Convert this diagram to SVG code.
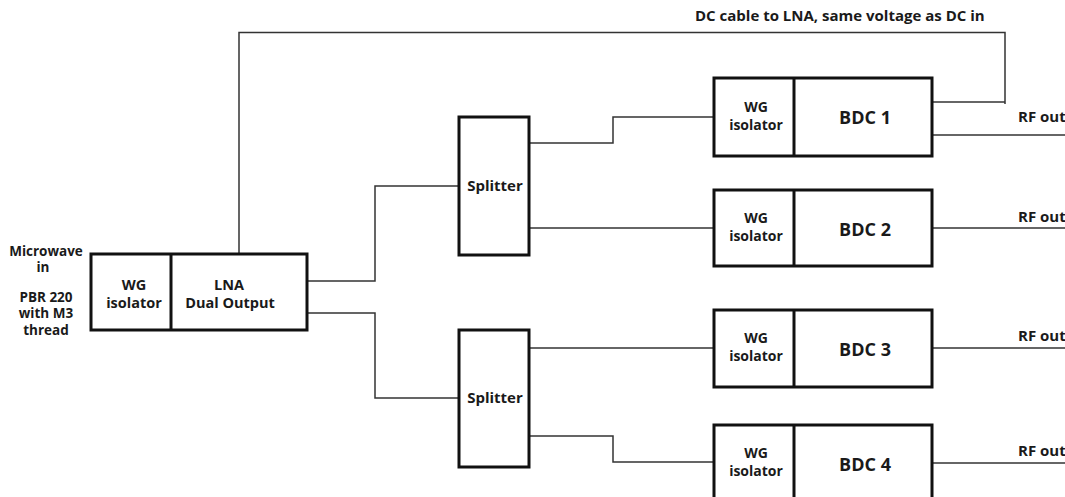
<svg xmlns="http://www.w3.org/2000/svg" width="1065" height="497" viewBox="0 0 1065 497">
<style>
.box{fill:#fff;stroke:#111;stroke-width:3}
.div{stroke:#111;stroke-width:3}
.wire{fill:none;stroke:#333;stroke-width:1.5}
text{font-family:"Open Sans",Lato,"Liberation Sans",sans-serif;font-weight:bold;fill:#1a1a1a}
.s{font-size:13.5px}
.t{font-size:15px}
.n{font-size:14.5px}
.m{font-size:14px}
.l{font-size:18px}
.c{text-anchor:middle}
</style>
<rect width="1065" height="497" fill="#fff"/>
<g id="connectors">
<polyline class="wire" points="239,254 239,32.5 1005,32.5 1005,104"/>
<polyline class="wire" points="932,102 1005,102"/>
<polyline class="wire" points="307,281 375,281 375,186 459,186"/>
<polyline class="wire" points="307,313 375,313 375,398 459,398"/>
<polyline class="wire" points="529,143 613,143 613,117 714,117"/>
<polyline class="wire" points="529,228 714,228"/>
<polyline class="wire" points="529,348 714,348"/>
<polyline class="wire" points="529,436 613,436 613,462 714,462"/>
<polyline class="wire" points="932,135 1065,135"/>
<polyline class="wire" points="932,228 1065,228"/>
<polyline class="wire" points="932,348 1065,348"/>
<polyline class="wire" points="932,463 1065,463"/>
</g>
<g id="dc-label">
<text class="t" x="695" y="21">DC cable to LNA, same voltage as DC in</text>
</g>
<g id="input-label">
<text class="s c" x="46" y="256">Microwave</text>
<text class="s c" x="43" y="272">in</text>
<text class="s c" x="46" y="302">PBR 220</text>
<text class="s c" x="46" y="318">with M3</text>
<text class="s c" x="46" y="335">thread</text>
</g>
<g id="lna">
<rect class="box" x="91" y="254" width="216" height="76"/>
<line class="div" x1="171" y1="254" x2="171" y2="330"/>
<text class="n c" x="134" y="290">WG</text>
<text class="n c" x="134" y="308">isolator</text>
<text class="n c" x="229" y="290">LNA</text>
<text class="n c" x="230" y="308">Dual Output</text>
</g>
<g id="splitter1">
<rect class="box" x="459" y="117" width="70" height="138"/>
<text class="t c" x="495" y="191">Splitter</text>
</g>
<g id="splitter2">
<rect class="box" x="459" y="330" width="70" height="137"/>
<text class="t c" x="495" y="403">Splitter</text>
</g>
<g id="bdc1">
<rect class="box" x="714" y="78" width="218" height="78"/>
<line class="div" x1="794" y1="78" x2="794" y2="156"/>
<text class="m c" x="756" y="112">WG</text>
<text class="m c" x="756" y="130">isolator</text>
<text class="l c" x="865" y="124">BDC 1</text>
<text class="t" x="1018" y="122">RF out</text>
</g>
<g id="bdc2">
<rect class="box" x="714" y="190" width="218" height="76"/>
<line class="div" x1="794" y1="190" x2="794" y2="266"/>
<text class="m c" x="756" y="223">WG</text>
<text class="m c" x="756" y="241">isolator</text>
<text class="l c" x="865" y="236">BDC 2</text>
<text class="t" x="1018" y="222">RF out</text>
</g>
<g id="bdc3">
<rect class="box" x="714" y="310" width="218" height="77"/>
<line class="div" x1="794" y1="310" x2="794" y2="387"/>
<text class="m c" x="756" y="343">WG</text>
<text class="m c" x="756" y="361">isolator</text>
<text class="l c" x="865" y="356">BDC 3</text>
<text class="t" x="1018" y="341">RF out</text>
</g>
<g id="bdc4">
<rect class="box" x="714" y="425" width="218" height="80"/>
<line class="div" x1="794" y1="425" x2="794" y2="505"/>
<text class="m c" x="756" y="458">WG</text>
<text class="m c" x="756" y="476">isolator</text>
<text class="l c" x="865" y="471">BDC 4</text>
<text class="t" x="1018" y="456">RF out</text>
</g>
</svg>
